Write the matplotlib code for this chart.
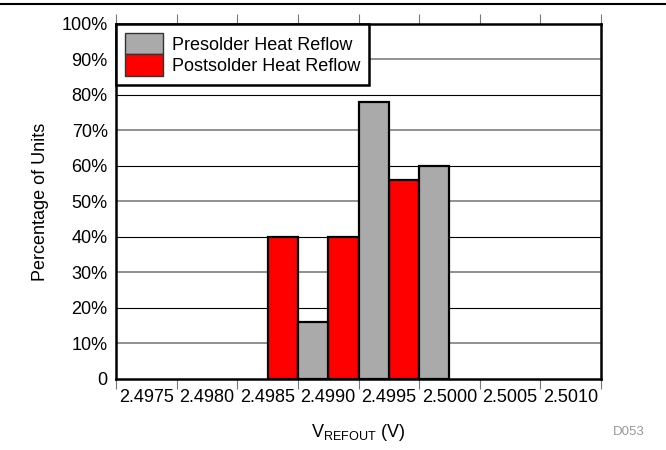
import numpy as np
import matplotlib
matplotlib.use('Agg')
import matplotlib.pyplot as plt
from matplotlib.lines import Line2D

plt.rcParams['font.family'] = ['Liberation Sans', 'DejaVu Sans']
plt.rcParams['mathtext.fontset'] = 'custom'
plt.rcParams['mathtext.rm'] = 'Liberation Sans'

# data
presolder_bins = [2.49875, 2.49925, 2.49975]
presolder_pct = [16, 78, 60]
postsolder_bins = [2.49850, 2.49900, 2.49950]
postsolder_pct = [40, 40, 56]
bin_width = 0.00025

x_labels = ['2.4975', '2.4980', '2.4985', '2.4990', '2.4995', '2.5000', '2.5005', '2.5010']
x_label_pos = [float(s) for s in x_labels]
y_ticks = [0, 10, 20, 30, 40, 50, 60, 70, 80, 90, 100]
y_labels = ['0'] + ['%d%%' % v for v in y_ticks[1:]]

fig = plt.figure(figsize=(6.66, 4.5), dpi=100)
ax = fig.add_axes([0.1742, 0.1578, 0.7282, 0.7889])

ax.bar(postsolder_bins, postsolder_pct, width=bin_width, align='edge',
       color='#FF0000', edgecolor='black', linewidth=1.6, zorder=3,
       label='Postsolder Heat Reflow')
ax.bar(presolder_bins, presolder_pct, width=bin_width, align='edge',
       color='#AAAAAA', edgecolor='black', linewidth=1.6, zorder=3,
       label='Presolder Heat Reflow')

x0 = x_label_pos[0] - 0.00025
x1 = x_label_pos[-1] + 0.00025
ax.set_xlim(x0, x1)
ax.set_ylim(0, 100)

# tick marks at the interval edges, labels in between
ax.set_xticks(np.linspace(x0, x1, 9))
ax.set_xticklabels([])
ax.set_xticks(x_label_pos, minor=True)
ax.set_xticklabels(x_labels, minor=True)
ax.tick_params(axis='x', which='major', direction='out', length=7.5, width=0.8,
               color='#777777', top=True, bottom=True)
ax.tick_params(axis='x', which='minor', length=0, pad=7, labelsize=13)

ax.set_yticks(y_ticks)
ax.set_yticklabels(y_labels)
ax.tick_params(axis='y', length=0, pad=6, labelsize=13)

for v in y_ticks[1:-1]:
    if v % 20 == 0:
        ax.axhline(v, color='black', linewidth=0.8, zorder=1)
    else:
        ax.axhline(v, color='#888888', linewidth=1.3, zorder=1)

for s in ax.spines.values():
    s.set_linewidth(1.8)
    s.set_color('black')
    s.set_zorder(4)

ax.set_ylabel('Percentage of Units', fontsize=13, labelpad=9)
ax.set_xlabel(r'V$_{\mathregular{REFOUT}}$ (V)', fontsize=13, labelpad=12)

handles, labels = ax.get_legend_handles_labels()
leg = ax.legend(handles[::-1], labels[::-1], loc='upper left', bbox_to_anchor=(0, 1),
                borderaxespad=0, fontsize=13.0, frameon=True, fancybox=False,
                handlelength=2.1, handleheight=1.45, labelspacing=0.0,
                handletextpad=0.5, borderpad=0.5)
leg.get_frame().set_edgecolor('black')
leg.get_frame().set_linewidth(1.8)
leg.get_frame().set_alpha(1)
leg.set_zorder(5)
for p in leg.get_patches():
    p.set_linewidth(1.0)
    p.set_edgecolor('#333333')

fig.text(0.968, 0.04, 'D053', color='#999999', fontsize=9.5, ha='right', va='center')
fig.add_artist(Line2D([0, 1], [0.991, 0.991], color='black', linewidth=1.5,
                      transform=fig.transFigure))

fig.savefig('out.png', dpi=100)
